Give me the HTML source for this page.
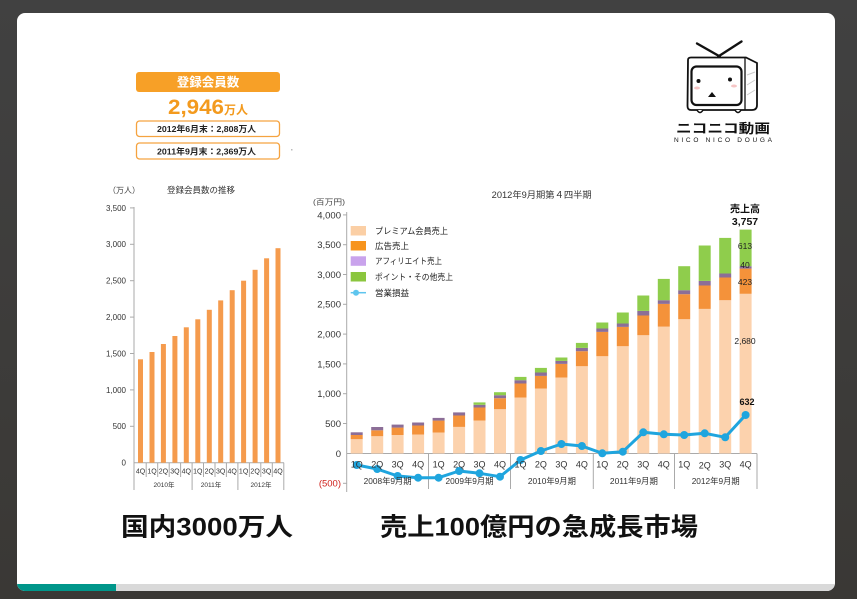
<!DOCTYPE html>
<html><head><meta charset="utf-8">
<style>
html,body{margin:0;padding:0;background:#3e3c3a;}
svg{display:block;}
text{font-family:"Liberation Sans","Noto Sans CJK JP",sans-serif;}
</style></head>
<body>
<svg width="857" height="599" viewBox="0 0 857 599" xmlns="http://www.w3.org/2000/svg">
<defs>
<clipPath id="card"><rect x="17" y="13" width="818" height="578" rx="8"/></clipPath>
<linearGradient id="bg" x1="0" y1="0" x2="0" y2="1">
<stop offset="0" stop-color="#414141"/>
<stop offset="1" stop-color="#3a3835"/>
</linearGradient>
</defs>
<rect width="857" height="599" fill="url(#bg)"/>
<g clip-path="url(#card)">
<rect x="17" y="13" width="818" height="578" fill="#ffffff"/>
<rect x="17" y="584" width="818" height="8" fill="#d9d9d9"/>
<rect x="17" y="584" width="99" height="8" fill="#00968a"/>
</g>

<!-- Top-left info boxes -->
<rect x="136" y="72" width="144" height="20" rx="3" fill="#f7a027"/>
<text x="208" y="86.5" font-size="12.5" font-weight="bold" fill="#fff" text-anchor="middle">登録会員数</text>
<text x="168" y="114" font-size="21" font-weight="bold" fill="#f39a1e" textLength="56" lengthAdjust="spacingAndGlyphs">2,946</text>
<text x="224" y="114" font-size="12" font-weight="bold" fill="#f39a1e">万人</text>
<rect x="136.5" y="121" width="143" height="15.5" rx="3" fill="#fff" stroke="#f5a340" stroke-width="1.3"/>
<text x="157" y="132" font-size="8.5" font-weight="bold" fill="#222" textLength="99" lengthAdjust="spacingAndGlyphs">2012年6月末：2,808万人</text>
<rect x="136.5" y="143" width="143" height="16" rx="3" fill="#fff" stroke="#f5a340" stroke-width="1.3"/>
<text x="157" y="154.5" font-size="8.5" font-weight="bold" fill="#222" textLength="99" lengthAdjust="spacingAndGlyphs">2011年9月末：2,369万人</text>
<rect x="291" y="149" width="1.5" height="1.5" fill="#bbb"/>

<!-- Left chart -->
<text x="108" y="193" font-size="8" fill="#444">（万人）</text>
<text x="201" y="193" font-size="8.5" fill="#333" text-anchor="middle">登録会員数の推移</text>
<g font-size="8" fill="#333" text-anchor="end">
<text x="126" y="210.8">3,500</text>
<text x="126" y="247.2">3,000</text>
<text x="126" y="283.6">2,500</text>
<text x="126" y="320">2,000</text>
<text x="126" y="356.4">1,500</text>
<text x="126" y="392.8">1,000</text>
<text x="126" y="429.2">500</text>
<text x="126" y="465.6">0</text>
</g>
<g stroke="#aaa" stroke-width="1">
<line x1="134" y1="207" x2="134" y2="463"/>
<line x1="130" y1="207.9" x2="134" y2="207.9"/>
<line x1="130" y1="244.3" x2="134" y2="244.3"/>
<line x1="130" y1="280.7" x2="134" y2="280.7"/>
<line x1="130" y1="317.1" x2="134" y2="317.1"/>
<line x1="130" y1="353.5" x2="134" y2="353.5"/>
<line x1="130" y1="389.9" x2="134" y2="389.9"/>
<line x1="130" y1="426.3" x2="134" y2="426.3"/>
<line x1="134" y1="462.7" x2="284" y2="462.7"/>
<line x1="134" y1="462.7" x2="134" y2="490"/>
<line x1="146.2" y1="462.7" x2="146.2" y2="477"/>
<line x1="157.7" y1="462.7" x2="157.7" y2="477"/>
<line x1="169.2" y1="462.7" x2="169.2" y2="477"/>
<line x1="180.6" y1="462.7" x2="180.6" y2="477"/>
<line x1="192.1" y1="462.7" x2="192.1" y2="490"/>
<line x1="203.5" y1="462.7" x2="203.5" y2="477"/>
<line x1="215" y1="462.7" x2="215" y2="477"/>
<line x1="226.4" y1="462.7" x2="226.4" y2="477"/>
<line x1="237.9" y1="462.7" x2="237.9" y2="490"/>
<line x1="249.4" y1="462.7" x2="249.4" y2="477"/>
<line x1="260.8" y1="462.7" x2="260.8" y2="477"/>
<line x1="272.3" y1="462.7" x2="272.3" y2="477"/>
<line x1="283.8" y1="462.7" x2="283.8" y2="490"/>
</g>
<g fill="#f59b4d">
<rect x="138" y="359.3" width="5" height="103.4"/>
<rect x="149.5" y="352" width="5" height="110.7"/>
<rect x="160.9" y="344" width="5" height="118.7"/>
<rect x="172.4" y="336" width="5" height="126.7"/>
<rect x="183.8" y="327.3" width="5" height="135.4"/>
<rect x="195.3" y="319.3" width="5" height="143.4"/>
<rect x="206.8" y="309.8" width="5" height="152.9"/>
<rect x="218.2" y="300.4" width="5" height="162.3"/>
<rect x="229.7" y="290.2" width="5" height="172.5"/>
<rect x="241.1" y="280.7" width="5" height="182"/>
<rect x="252.6" y="269.8" width="5" height="192.9"/>
<rect x="264.1" y="258.3" width="5" height="204.4"/>
<rect x="275.5" y="248.2" width="5" height="214.5"/>
</g>
<g font-size="7" fill="#333" text-anchor="middle">
<text x="140.5" y="473.5">4Q</text>
<text x="152" y="473.5">1Q</text>
<text x="163.4" y="473.5">2Q</text>
<text x="174.9" y="473.5">3Q</text>
<text x="186.3" y="473.5">4Q</text>
<text x="197.8" y="473.5">1Q</text>
<text x="209.3" y="473.5">2Q</text>
<text x="220.7" y="473.5">3Q</text>
<text x="232.2" y="473.5">4Q</text>
<text x="243.6" y="473.5">1Q</text>
<text x="255.1" y="473.5">2Q</text>
<text x="266.6" y="473.5">3Q</text>
<text x="278" y="473.5">4Q</text>
<text x="164" y="487" font-size="6.5">2010年</text>
<text x="211" y="487" font-size="6.5">2011年</text>
<text x="261" y="487" font-size="6.5">2012年</text>
</g>

<!-- Right chart -->
<text x="541.7" y="198" font-size="9" fill="#333" text-anchor="middle" textLength="100" lengthAdjust="spacingAndGlyphs">2012年9月期第４四半期</text>
<text x="313" y="204.5" font-size="7.5" fill="#444" textLength="32" lengthAdjust="spacingAndGlyphs">(百万円)</text>
<g font-size="9.5" fill="#333" text-anchor="end">
<text x="341" y="218.3">4,000</text>
<text x="341" y="248.1">3,500</text>
<text x="341" y="277.9">3,000</text>
<text x="341" y="307.7">2,500</text>
<text x="341" y="337.5">2,000</text>
<text x="341" y="367.3">1,500</text>
<text x="341" y="397.1">1,000</text>
<text x="341" y="426.9">500</text>
<text x="341" y="456.9">0</text>
<text x="341" y="486.7" fill="#d0211c">(500)</text>
</g>
<g stroke="#aaa" stroke-width="1">
<line x1="346.7" y1="212" x2="346.7" y2="492"/>
<line x1="343" y1="214.9" x2="347" y2="214.9"/>
<line x1="343" y1="244.7" x2="347" y2="244.7"/>
<line x1="343" y1="274.5" x2="347" y2="274.5"/>
<line x1="343" y1="304.3" x2="347" y2="304.3"/>
<line x1="343" y1="334.1" x2="347" y2="334.1"/>
<line x1="343" y1="363.9" x2="347" y2="363.9"/>
<line x1="343" y1="393.7" x2="347" y2="393.7"/>
<line x1="343" y1="423.5" x2="347" y2="423.5"/>
<line x1="343" y1="483.3" x2="347" y2="483.3"/>
<line x1="346.7" y1="453.5" x2="757" y2="453.5"/>
<line x1="428.5" y1="453.5" x2="428.5" y2="489"/>
<line x1="510.5" y1="453.5" x2="510.5" y2="489"/>
<line x1="593.3" y1="453.5" x2="593.3" y2="489"/>
<line x1="674.5" y1="453.5" x2="674.5" y2="489"/>
<line x1="757" y1="453.5" x2="757" y2="489"/>
</g>

<!-- stacked bars: premium -->
<g fill="#fcd2ad">
<rect x="350.7" y="439.2" width="12" height="14.3"/>
<rect x="371.2" y="436.2" width="12" height="17.3"/>
<rect x="391.6" y="435" width="12" height="18.5"/>
<rect x="412.1" y="434.5" width="12" height="19"/>
<rect x="432.6" y="432.5" width="12" height="21"/>
<rect x="453.1" y="426.9" width="12" height="26.6"/>
<rect x="473.5" y="420.5" width="12" height="33"/>
<rect x="494" y="409.2" width="12" height="44.3"/>
<rect x="514.5" y="397.5" width="12" height="56"/>
<rect x="534.9" y="388.5" width="12" height="65"/>
<rect x="555.4" y="377.5" width="12" height="76"/>
<rect x="575.9" y="366.2" width="12" height="87.3"/>
<rect x="596.3" y="356.2" width="12" height="97.3"/>
<rect x="616.8" y="346.2" width="12" height="107.3"/>
<rect x="637.3" y="335.2" width="12" height="118.3"/>
<rect x="657.8" y="326.6" width="12" height="126.9"/>
<rect x="678.2" y="319.2" width="12" height="134.3"/>
<rect x="698.7" y="308.9" width="12" height="144.6"/>
<rect x="719.2" y="300.2" width="12" height="153.3"/>
<rect x="739.6" y="293.8" width="12" height="159.7"/>
</g>
<!-- ad -->
<g fill="#f4923a">
<rect x="350.7" y="435" width="12" height="4.2"/>
<rect x="371.2" y="430.3" width="12" height="5.9"/>
<rect x="391.6" y="427.6" width="12" height="7.4"/>
<rect x="412.1" y="425.5" width="12" height="9"/>
<rect x="432.6" y="420.6" width="12" height="11.9"/>
<rect x="453.1" y="415.5" width="12" height="11.4"/>
<rect x="473.5" y="407.5" width="12" height="13"/>
<rect x="494" y="398.2" width="12" height="11"/>
<rect x="514.5" y="383.5" width="12" height="14"/>
<rect x="534.9" y="375.9" width="12" height="12.6"/>
<rect x="555.4" y="363.9" width="12" height="13.6"/>
<rect x="575.9" y="351.2" width="12" height="15"/>
<rect x="596.3" y="331.9" width="12" height="24.3"/>
<rect x="616.8" y="326.9" width="12" height="19.3"/>
<rect x="637.3" y="315.5" width="12" height="19.7"/>
<rect x="657.8" y="303.9" width="12" height="22.7"/>
<rect x="678.2" y="294.2" width="12" height="25"/>
<rect x="698.7" y="285.5" width="12" height="23.4"/>
<rect x="719.2" y="277.5" width="12" height="22.7"/>
<rect x="739.6" y="268.6" width="12" height="25.2"/>
</g>
<!-- affiliate -->
<g fill="#8c6e97">
<rect x="350.7" y="432.3" width="12" height="2.7"/>
<rect x="371.2" y="427" width="12" height="3.3"/>
<rect x="391.6" y="424.6" width="12" height="3"/>
<rect x="412.1" y="422.5" width="12" height="3"/>
<rect x="432.6" y="417.9" width="12" height="2.7"/>
<rect x="453.1" y="412.4" width="12" height="3.1"/>
<rect x="473.5" y="404.8" width="12" height="2.7"/>
<rect x="494" y="395.2" width="12" height="3"/>
<rect x="514.5" y="380.2" width="12" height="3.3"/>
<rect x="534.9" y="372.5" width="12" height="3.4"/>
<rect x="555.4" y="360.9" width="12" height="3"/>
<rect x="575.9" y="347.9" width="12" height="3.3"/>
<rect x="596.3" y="328.5" width="12" height="3.4"/>
<rect x="616.8" y="323.5" width="12" height="3.4"/>
<rect x="637.3" y="310.9" width="12" height="4.6"/>
<rect x="657.8" y="300.2" width="12" height="3.7"/>
<rect x="678.2" y="290.2" width="12" height="4"/>
<rect x="698.7" y="280.9" width="12" height="4.6"/>
<rect x="719.2" y="273.5" width="12" height="4"/>
<rect x="739.6" y="266.2" width="12" height="2.4"/>
</g>
<!-- point/other -->
<g fill="#8fcd4c">
<rect x="473.5" y="402.4" width="12" height="2.4"/>
<rect x="494" y="392.2" width="12" height="3"/>
<rect x="514.5" y="376.9" width="12" height="3.3"/>
<rect x="534.9" y="367.9" width="12" height="4.6"/>
<rect x="555.4" y="357.5" width="12" height="3.4"/>
<rect x="575.9" y="342.9" width="12" height="5"/>
<rect x="596.3" y="322.5" width="12" height="6"/>
<rect x="616.8" y="312.5" width="12" height="11"/>
<rect x="637.3" y="295.5" width="12" height="15.4"/>
<rect x="657.8" y="278.9" width="12" height="21.3"/>
<rect x="678.2" y="266.2" width="12" height="24"/>
<rect x="698.7" y="245.5" width="12" height="35.4"/>
<rect x="719.2" y="237.9" width="12" height="35.6"/>
<rect x="739.6" y="229.6" width="12" height="36.6"/>
</g>

<!-- operating income line -->
<polyline fill="none" stroke="#1fa5de" stroke-width="3" stroke-linejoin="round"
points="356.7,465 377.2,469 397.6,476 418.1,477.7 438.6,477.7 459.1,471 479.5,473.3 500,476.7 520.5,460 540.9,451 561.4,444 581.9,446 602.3,453.3 622.8,451.7 643.3,432.3 663.8,434.3 684.2,435 704.7,433.3 725.2,437.3 745.6,415"/>
<g fill="#1fa5de">
<circle cx="356.7" cy="465" r="4"/>
<circle cx="377.2" cy="469" r="4"/>
<circle cx="397.6" cy="476" r="4"/>
<circle cx="418.1" cy="477.7" r="4"/>
<circle cx="438.6" cy="477.7" r="4"/>
<circle cx="459.1" cy="471" r="4"/>
<circle cx="479.5" cy="473.3" r="4"/>
<circle cx="500" cy="476.7" r="4"/>
<circle cx="520.5" cy="460" r="4"/>
<circle cx="540.9" cy="451" r="4"/>
<circle cx="561.4" cy="444" r="4"/>
<circle cx="581.9" cy="446" r="4"/>
<circle cx="602.3" cy="453.3" r="4"/>
<circle cx="622.8" cy="451.7" r="4"/>
<circle cx="643.3" cy="432.3" r="4"/>
<circle cx="663.8" cy="434.3" r="4"/>
<circle cx="684.2" cy="435" r="4"/>
<circle cx="704.7" cy="433.3" r="4"/>
<circle cx="725.2" cy="437.3" r="4"/>
<circle cx="745.6" cy="415" r="4"/>
</g>

<!-- x labels right -->
<g font-size="9" fill="#333" text-anchor="middle">
<text x="356.7" y="467.5">1Q</text>
<text x="377.2" y="467.5">2Q</text>
<text x="397.6" y="467.5">3Q</text>
<text x="418.1" y="467.5">4Q</text>
<text x="438.6" y="467.5">1Q</text>
<text x="459.1" y="467.5">2Q</text>
<text x="479.5" y="467.5">3Q</text>
<text x="500" y="467.5">4Q</text>
<text x="520.5" y="467.5">1Q</text>
<text x="540.9" y="467.5">2Q</text>
<text x="561.4" y="467.5">3Q</text>
<text x="581.9" y="467.5">4Q</text>
<text x="602.3" y="467.5">1Q</text>
<text x="622.8" y="467.5">2Q</text>
<text x="643.3" y="467.5">3Q</text>
<text x="663.8" y="467.5">4Q</text>
<text x="684.2" y="467.5">1Q</text>
<text x="704.7" y="468.5">2Q</text>
<text x="725.2" y="467.5">3Q</text>
<text x="745.6" y="467.5">4Q</text>
</g>
<g font-size="8.5" fill="#333" text-anchor="middle">
<text x="387.6" y="484" textLength="48" lengthAdjust="spacingAndGlyphs">2008年9月期</text>
<text x="469.5" y="484" textLength="48" lengthAdjust="spacingAndGlyphs">2009年9月期</text>
<text x="551.9" y="484" textLength="48" lengthAdjust="spacingAndGlyphs">2010年9月期</text>
<text x="633.9" y="484" textLength="48" lengthAdjust="spacingAndGlyphs">2011年9月期</text>
<text x="715.7" y="484" textLength="48" lengthAdjust="spacingAndGlyphs">2012年9月期</text>
</g>

<!-- annotations -->
<text x="745" y="212.5" font-size="10" font-weight="bold" fill="#111" text-anchor="middle">売上高</text>
<text x="745" y="225" font-size="10.5" font-weight="bold" fill="#111" text-anchor="middle">3,757</text>
<g font-size="8.5" fill="#222" text-anchor="middle">
<text x="745" y="248.8">613</text>
<text x="745" y="268">40</text>
<text x="745" y="284.8">423</text>
<text x="745" y="343.8">2,680</text>
</g>
<text x="747" y="405" font-size="9" font-weight="bold" fill="#111" text-anchor="middle">632</text>

<!-- legend -->
<rect x="350.7" y="226" width="15.3" height="9.5" fill="#fbcfa5"/>
<rect x="350.7" y="241" width="15.3" height="9.5" fill="#f7941d"/>
<rect x="350.7" y="256.3" width="15.3" height="9.5" fill="#c9a3ec"/>
<rect x="350.7" y="272" width="15.3" height="9.5" fill="#8bc63e"/>
<line x1="350.7" y1="292.7" x2="366" y2="292.7" stroke="#5ec5ee" stroke-width="1.5"/>
<circle cx="356" cy="292.7" r="3" fill="#5ec5ee"/>
<g font-size="8.5" fill="#222">
<text x="375" y="233.8" textLength="73" lengthAdjust="spacingAndGlyphs">プレミアム会員売上</text>
<text x="375" y="248.8">広告売上</text>
<text x="375" y="264.1" textLength="67" lengthAdjust="spacingAndGlyphs">アフィリエイト売上</text>
<text x="375" y="279.8" textLength="78" lengthAdjust="spacingAndGlyphs">ポイント・その他売上</text>
<text x="375" y="295.8">営業損益</text>
</g>

<!-- logo -->
<g stroke="#111" stroke-width="2.4" stroke-linecap="round" fill="none">
<line x1="697" y1="43.5" x2="719" y2="56"/>
<line x1="741.5" y1="41.5" x2="719" y2="56"/>
</g>
<circle cx="719" cy="56.5" r="2" fill="#111"/>
<path d="M688,60 Q688,57.5 691,57.5 L746,57.5 L757,63 L757,105 Q757,110 752,110 L691,110 Q687.5,110 687.5,106 Z" fill="#fff" stroke="#111" stroke-width="1.8"/>
<line x1="745" y1="57.5" x2="745" y2="110" stroke="#111" stroke-width="1.3"/>
<path d="M747,75 L755,72 M747,85 L755,80 M747,95 L755,90" stroke="#ccc" stroke-width="1"/>
<rect x="691.5" y="66.5" width="50" height="38.5" rx="5" fill="#fff" stroke="#111" stroke-width="2.2"/>
<circle cx="698.5" cy="81" r="2" fill="#111"/>
<circle cx="730" cy="79.5" r="2" fill="#111"/>
<ellipse cx="697" cy="88" rx="3" ry="1.5" fill="#f6c6c6"/>
<ellipse cx="734" cy="86" rx="3" ry="1.5" fill="#f6c6c6"/>
<path d="M708,97 L712,92 L716,97 Z" fill="#111"/>
<path d="M697,110 Q700,115 703,110 M735,110 Q738,115 741,110" stroke="#111" stroke-width="1.6" fill="#fff"/>
<text x="723" y="133" font-size="13" font-weight="bold" fill="#111" text-anchor="middle" textLength="94" lengthAdjust="spacingAndGlyphs">ニコニコ動画</text>
<text x="723" y="142" font-size="6.5" fill="#111" text-anchor="middle" textLength="98" lengthAdjust="spacing">NICO NICO DOUGA</text>

<!-- bottom captions -->
<text x="121" y="535.5" font-size="25" font-weight="bold" fill="#111" textLength="172" lengthAdjust="spacingAndGlyphs">国内3000万人</text>
<text x="380" y="535.5" font-size="25" font-weight="bold" fill="#111" textLength="318" lengthAdjust="spacingAndGlyphs">売上100億円の急成長市場</text>
</svg>
</body></html>
